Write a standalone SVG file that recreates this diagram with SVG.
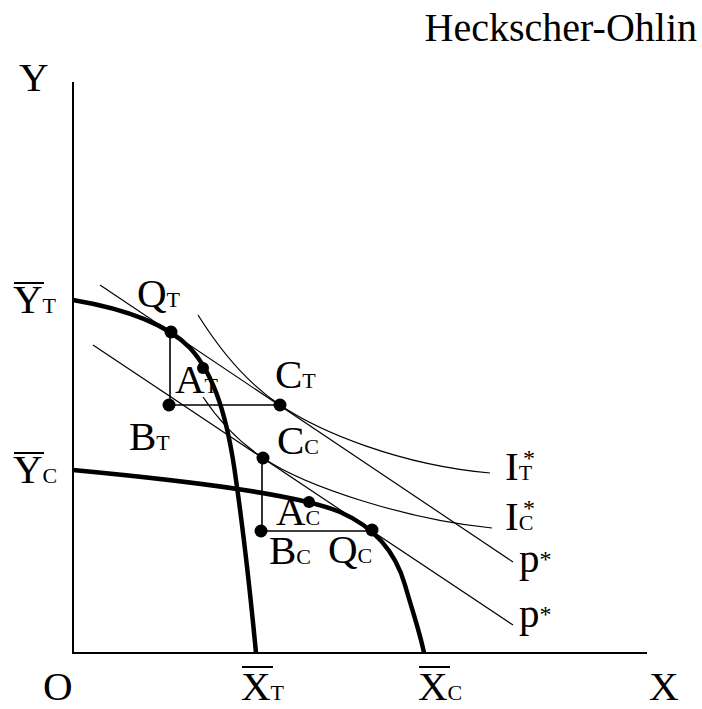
<svg xmlns="http://www.w3.org/2000/svg" width="702" height="709" viewBox="0 0 702 709">
<style>
text{font-family:"Liberation Serif","Times New Roman",serif;fill:#000}
.lb{font-size:41px}
.sb{font-size:22px}
.st{font-size:24px}
.ax{stroke:#000;stroke-width:2;fill:none}
.ppf{stroke:#000;stroke-width:4.5;fill:none;stroke-linecap:butt}
.thin{stroke:#000;stroke-width:1.2;fill:none}
.seg{stroke:#000;stroke-width:1.6;fill:none}
.bar{stroke:#000;stroke-width:2}
.dot{fill:#000}
</style>
<text class="lb" x="697" y="41" text-anchor="end" style="font-size:40px">Heckscher-Ohlin</text>
<g id="axes">
<path class="ax" d="M73,82 V653 H647"/>
<text class="lb" x="19" y="91">Y</text>
<text class="lb" x="43" y="700">O</text>
<text class="lb" x="649" y="700">X</text>
</g>
<g id="ybarT"><line class="bar" x1="14" y1="283" x2="44" y2="283"/><text class="lb" x="13" y="313">Y<tspan class="sb">T</tspan></text></g>
<g id="ybarC"><line class="bar" x1="14" y1="453" x2="44" y2="453"/><text class="lb" x="13" y="483">Y<tspan class="sb">C</tspan></text></g>
<g id="xbarT"><line class="bar" x1="242" y1="667" x2="273" y2="667"/><text class="lb" x="241" y="700">X<tspan class="sb">T</tspan></text></g>
<g id="xbarC"><line class="bar" x1="419" y1="667" x2="450" y2="667"/><text class="lb" x="418" y="700">X<tspan class="sb">C</tspan></text></g>
<g id="connectors">
<path id="ppfT" class="ppf" d="M73,300 C120,308 165,322 190,348 C215,375 228,420 236,480 C241,515 250,590 256,653"/>
<path id="ppfC" class="ppf" d="M73,470 C200,482 300,495 340,512 C372,526 395,550 405,585 C413,613 420,633 424,653"/>
<line id="pUpper" class="thin" x1="100" y1="285" x2="513" y2="562"/>
<line id="pLower" class="thin" x1="93" y1="345" x2="513" y2="625"/>
<path id="IT" class="thin" d="M198,315 C223,355 250,385 280,405 C320,432 400,465 490,473"/>
<path id="IC" class="thin" d="M203,397 C221,424 239,442 263,458 C308,488 410,520 492,528"/>
<path class="seg" d="M170,332 V405 H280"/>
<path class="seg" d="M262,458 V531 H372"/>
</g>
<g id="QT"><circle class="dot" cx="171" cy="332" r="6.5"/><text class="lb" x="137" y="307">Q<tspan class="sb">T</tspan></text></g>
<g id="AT"><circle class="dot" cx="203" cy="368" r="6"/><text class="lb" x="175" y="393">A<tspan class="sb">T</tspan></text></g>
<g id="BT"><circle class="dot" cx="169" cy="405" r="6.5"/><text class="lb" x="129" y="450">B<tspan class="sb">T</tspan></text></g>
<g id="CT"><circle class="dot" cx="280" cy="405" r="6.5"/><text class="lb" x="275" y="388">C<tspan class="sb">T</tspan></text></g>
<g id="CC"><circle class="dot" cx="263" cy="458" r="6.5"/><text class="lb" x="277" y="454">C<tspan class="sb">C</tspan></text></g>
<g id="AC"><circle class="dot" cx="309" cy="502" r="6"/><text class="lb" x="276" y="525">A<tspan class="sb">C</tspan></text></g>
<g id="BC"><circle class="dot" cx="261" cy="531" r="6.5"/><text class="lb" x="269" y="564">B<tspan class="sb">C</tspan></text></g>
<g id="QC"><circle class="dot" cx="372" cy="530" r="6.5"/><text class="lb" x="328" y="563">Q<tspan class="sb">C</tspan></text></g>
<g id="ITlabel"><text class="lb" x="505" y="480">I<tspan class="sb">T</tspan></text><text class="st" x="529" y="466" text-anchor="middle">*</text></g>
<g id="IClabel"><text class="lb" x="505" y="530">I<tspan class="sb">C</tspan></text><text class="st" x="529" y="516" text-anchor="middle">*</text></g>
<g id="p1label"><text class="lb" x="519" y="572">p<tspan class="st" dy="-5">*</tspan></text></g>
<g id="p2label"><text class="lb" x="519" y="627">p<tspan class="st" dy="-5">*</tspan></text></g>
</svg>
